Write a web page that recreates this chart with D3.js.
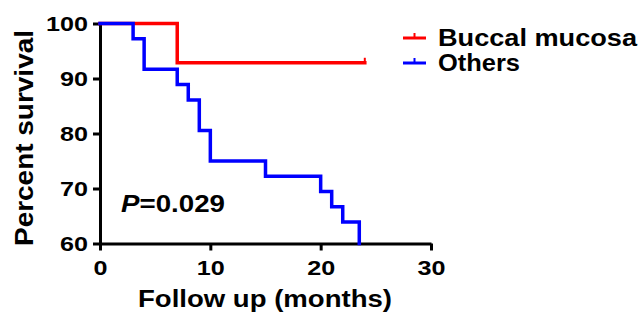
<!DOCTYPE html>
<html>
<head>
<meta charset="utf-8">
<script src="https://cdn.jsdelivr.net/npm/d3@7"></script>
<style>
  body { margin: 0; background: #fff; }
  text { font-family: "Liberation Sans", Arial, sans-serif; font-weight: bold; }
</style>
</head>
<body>
<div id="chart"></div>
<script>
// Kaplan-Meier steps
let buccalTime = [0, 7, 24];
let buccalSurv = [100, 92.86, 92.86];
let othersTime = [0, 3, 4, 7, 8, 9, 10, 15, 20, 21, 22, 23.5];
let othersSurv = [100, 97.22, 91.67, 88.89, 86.11, 80.56, 75, 72.22, 69.44, 66.67, 63.89, 60];

let xTicks = [0, 10, 20, 30];
let yTicks = [60, 70, 80, 90, 100];
let seriesNames = ["Buccal mucosa", "Others"];
let seriesColors = ["#ff0000", "#0000ff"];

let svgWidth = 640;
let svgHeight = 314;

let svg = d3.select("#chart")
  .append("svg")
  .attr("width", svgWidth)
  .attr("height", svgHeight);

let x = d3.scaleLinear().domain([0, 30]).range([100, 431]);
let y = d3.scaleLinear().domain([60, 100]).range([243.5, 23.5]);

// the original font is wider than Arial, so stretch text to its measured width
function stretch(sel, w) {
  sel.attr("textLength", w).attr("lengthAdjust", "spacingAndGlyphs");
}

// axes
let bottomAxis = d3.axisBottom(x).tickValues(xTicks).tickSize(7).tickSizeOuter(0).tickPadding(5);
let leftAxis = d3.axisLeft(y).tickValues(yTicks).tickSize(7).tickSizeOuter(0).tickPadding(5);

let gx = svg.append("g")
  .attr("transform", `translate(0, ${y(60)})`)
  .call(bottomAxis);
let gy = svg.append("g")
  .attr("transform", `translate(${x(0)}, 0)`)
  .call(leftAxis);

[gx, gy].forEach(g => {
  g.select(".domain").attr("stroke", "#000").attr("stroke-width", 3);
  g.selectAll(".tick line").attr("stroke", "#000").attr("stroke-width", 3);
  g.selectAll(".tick text")
    .attr("fill", "#000")
    .style("font-size", "21px")
    .style("font-family", "Liberation Sans, Arial, sans-serif")
    .style("font-weight", "bold")
    .attr("textLength", d => String(d).length * 14)
    .attr("lengthAdjust", "spacingAndGlyphs");
});
gx.selectAll(".tick text").attr("dy", "0.95em");

// survival curves
let drawStep = d3.line()
  .x(d => x(d[0]))
  .y(d => y(d[1]))
  .curve(d3.curveStepAfter);

let curves = [
  d3.zip(buccalTime, buccalSurv),
  d3.zip(othersTime, othersSurv)
];

curves.forEach((pts, i) => {
  svg.append("path")
    .attr("d", drawStep(pts))
    .attr("fill", "none")
    .attr("stroke", seriesColors[i])
    .attr("stroke-width", 3.5)
    .attr("stroke-linecap", "square");
});

// censor mark at end of buccal curve
let last = curves[0][curves[0].length - 1];
svg.append("line")
  .attr("x1", x(last[0])).attr("x2", x(last[0]))
  .attr("y1", y(last[1])).attr("y2", y(last[1]) - 5)
  .attr("stroke", seriesColors[0])
  .attr("stroke-width", 2);

// legend
let legendWidths = [199, 82];
let legend = svg.append("g").attr("transform", "translate(403, 38)");
seriesNames.forEach((name, i) => {
  let row = legend.append("g").attr("transform", `translate(0, ${i * 25})`);
  row.append("line")
    .attr("x1", 0).attr("x2", 23).attr("y1", 0).attr("y2", 0)
    .attr("stroke", seriesColors[i]).attr("stroke-width", 3);
  row.append("line")
    .attr("x1", 11.5).attr("x2", 11.5).attr("y1", 0).attr("y2", -5)
    .attr("stroke", seriesColors[i]).attr("stroke-width", 2);
  row.append("text")
    .attr("x", 35).attr("y", 7.5)
    .style("font-size", "23px")
    .text(name)
    .call(stretch, legendWidths[i]);
});

// axis titles
svg.append("text")
  .attr("x", 138).attr("y", 307)
  .style("font-size", "23px")
  .text("Follow up (months)")
  .call(stretch, 254);

svg.append("text")
  .attr("transform", "translate(33, 246) rotate(-90)")
  .style("font-size", "26px")
  .text("Percent survival")
  .call(stretch, 216);

// p value
let pText = svg.append("text").attr("x", 121).attr("y", 212).style("font-size", "23px");
pText.append("tspan").style("font-style", "italic").text("P");
pText.append("tspan").text("=0.029");
pText.call(stretch, 104);
</script>
</body>
</html>
